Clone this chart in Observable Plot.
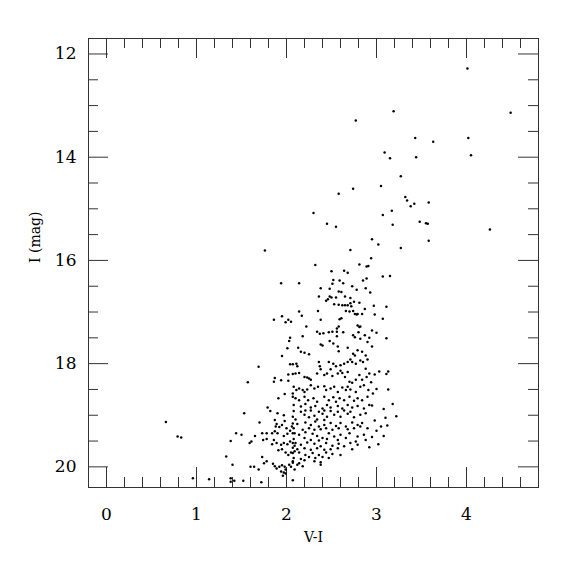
<!DOCTYPE html>
<html>
<head>
<meta charset="utf-8">
<script src="https://cdn.jsdelivr.net/npm/d3@7"></script>
<script src="https://cdn.jsdelivr.net/npm/@observablehq/plot@0.6"></script>
<style>
  html, body { margin: 0; padding: 0; background: #fff; }
</style>
</head>
<body>
<div id="chart"></div>
<script>
// ---- Data: [V-I, I (mag)] ----
const brightStars = [
  [4.01,12.28],[3.19,13.11],[4.49,13.14],[2.77,13.29],[3.43,13.63],[3.63,13.70],[4.02,13.63],
  [3.09,13.91],[3.15,14.02],[3.44,14.00],[4.05,13.96],[3.27,14.37],[2.74,14.61],[3.05,14.56],
  [2.58,14.71],[3.32,14.77],[3.34,14.84],[3.42,14.90],[3.38,14.95],[3.58,14.88],[3.17,15.04],
  [2.30,15.08],[3.07,15.12],[2.45,15.29],[2.55,15.35],[3.18,15.31],[3.48,15.25],[3.55,15.28],
  [3.57,15.29],[4.26,15.40],[2.95,15.59],[3.02,15.69],[3.58,15.62],[3.27,15.76],[2.71,15.80],
  [1.76,15.81]
];
const upperBranch = [
  [2.94,15.96],[2.32,16.09],[2.81,16.08],[2.91,16.11],[2.89,16.12],[2.50,16.21],[2.64,16.20],
  [2.68,16.24],[3.07,16.31],[3.15,16.30],[1.94,16.44],[2.14,16.44],[2.52,16.38],[2.51,16.45],
  [2.59,16.39],[2.63,16.44],[2.85,16.39],[2.89,16.35],[2.73,16.50],[2.38,16.54],[2.48,16.55],
  [2.58,16.60],[2.61,16.61],[2.78,16.57],[2.88,16.54],[2.93,16.62],[2.36,16.70],[2.46,16.75],
  [2.44,16.78],[2.50,16.72],[2.48,16.70],[2.55,16.72],[2.65,16.70],[2.71,16.73],[2.75,16.80],
  [2.81,16.82],[2.97,16.88],[3.11,16.90],[2.53,16.85],[2.58,16.86],[2.62,16.87],[2.65,16.87],
  [2.68,16.87],[2.71,16.83],[2.72,16.89],[2.14,16.99],[2.35,16.98],[2.17,17.07],[2.66,16.98],
  [2.70,16.99],[2.74,16.98],[2.76,17.04],[2.78,17.05],[2.79,17.04],[2.84,17.04],[2.87,16.94],
  [2.98,17.05],[1.86,17.15],[1.95,17.08],[1.99,17.20],[2.02,17.15],[2.05,17.19],[2.38,17.15],
  [2.59,17.14],[2.61,17.12],[2.58,17.28],[2.56,17.32],[2.79,17.26],[2.81,17.29],[2.82,17.28],
  [3.07,17.13],[2.22,17.28]
];
const branchEdges = [
  [2.95,17.36],[3.00,17.40],[2.04,17.50],[2.03,17.56],[3.11,17.51],[2.01,17.70],[2.95,17.67],
  [1.95,17.85],[2.04,18.01],[1.69,18.06],[3.13,18.15],[3.11,18.20],[2.02,18.21],[2.98,18.21],
  [3.03,18.15],[1.87,18.28],[1.86,18.35],[1.94,18.32],[2.02,18.33],[1.57,18.36],[2.94,18.36],
  [3.00,18.49],[2.96,18.58],[1.98,18.59],[1.91,18.67],[3.18,18.78],[1.79,18.85],[1.82,18.92],
  [1.90,18.96],[1.53,18.96],[1.97,19.00],[2.95,18.81],[3.08,18.88]
];
const midBranch = [
  [2.18,17.47],[2.34,17.38],[2.37,17.42],[2.41,17.41],[2.47,17.39],[2.51,17.38],[2.56,17.38],
  [2.56,17.47],[2.63,17.39],[2.74,17.45],[2.76,17.49],[2.80,17.39],[2.82,17.52],[2.87,17.45],
  [2.90,17.58],[2.92,17.50],[2.48,17.56],[2.52,17.61],[2.38,17.63],[2.40,17.65],[2.13,17.69],
  [2.16,17.77],[2.20,17.79],[2.25,17.82],[2.57,17.67],[2.58,17.76],[2.68,17.69],[2.74,17.81],
  [2.76,17.84],[2.79,17.74],[2.84,17.77],[2.88,17.84],[2.90,17.92],[2.82,17.94],[2.07,18.01],
  [2.11,18.00],[2.12,18.05],[2.36,17.97],[2.37,18.05],[2.47,17.97],[2.52,18.00],[2.55,18.05],
  [2.60,18.03],[2.64,18.00],[2.68,17.97],[2.71,17.92],[2.73,17.97],[2.77,18.00],[2.85,17.97],
  [2.88,18.10],[2.07,18.20],[2.10,18.19],[2.14,18.18],[2.20,18.26],[2.23,18.27],[2.25,18.29],
  [2.27,18.31],[2.34,18.19],[2.42,18.22],[2.45,18.19],[2.51,18.24],[2.57,18.19],[2.62,18.18],
  [2.65,18.26],[2.70,18.35],[2.73,18.37],[2.77,18.31],[2.81,18.22],[2.84,18.31],[2.89,18.26],
  [2.92,18.19],[2.38,18.11],[2.49,18.11],[2.60,18.14],[2.68,18.16],[2.08,18.45],[2.11,18.51],
  [2.14,18.48],[2.18,18.51],[2.20,18.55],[2.23,18.50],[2.07,18.58],[2.27,18.42],[2.31,18.48],
  [2.35,18.45],[2.42,18.44],[2.44,18.51],[2.49,18.48],[2.53,18.45],[2.57,18.55],[2.62,18.46],
  [2.66,18.51],[2.68,18.45],[2.71,18.50],[2.77,18.55],[2.82,18.45],[2.86,18.42],[2.91,18.51],
  [2.07,18.64],[2.10,18.67],[2.14,18.71],[2.20,18.64],[2.24,18.71],[2.30,18.67],[2.34,18.74],
  [2.42,18.64],[2.47,18.71],[2.52,18.65],[2.55,18.74],[2.59,18.67],[2.64,18.71],[2.70,18.64],
  [2.75,18.72],[2.79,18.67],[2.84,18.71],[2.90,18.64],[2.08,18.80],[2.16,18.83],[2.21,18.78],
  [2.27,18.85],[2.32,18.82],[2.40,18.87],[2.45,18.80],[2.49,18.85],[2.57,18.82],[2.62,18.87],
  [2.68,18.80],[2.73,18.85],[2.79,18.82],[2.86,18.87],[2.92,18.80]
];
const lowerClump = [
  [2.08,18.92],[2.16,18.93],[2.21,18.91],[2.27,18.91],[2.36,18.93],[2.42,18.91],[2.49,18.92],
  [2.57,18.93],[2.64,18.91],[2.71,18.93],[2.82,18.99],[2.88,18.96],[2.07,19.03],[2.20,18.99],
  [2.25,19.04],[2.31,19.01],[2.40,18.97],[2.45,19.03],[2.53,18.99],[2.60,19.03],[2.68,18.97],
  [2.75,19.04],[2.10,19.08],[2.34,19.08],[2.42,19.09],[2.12,19.17],[2.21,19.14],[2.27,19.19],
  [2.32,19.12],[2.36,19.22],[2.42,19.19],[2.49,19.15],[2.55,19.21],[2.60,19.15],[2.66,19.22],
  [2.73,19.14],[2.79,19.19],[2.84,19.15],[2.08,19.25],[2.18,19.28],[2.25,19.25],[2.31,19.28],
  [2.38,19.27],[2.44,19.25],[2.51,19.28],[2.58,19.25],[2.68,19.27],[2.75,19.25],[2.82,19.22],
  [2.90,19.25],[2.07,19.35],[2.14,19.38],[2.21,19.33],[2.29,19.36],[2.34,19.40],[2.40,19.44],
  [2.47,19.35],[2.53,19.41],[2.60,19.38],[2.70,19.35],[2.79,19.41],[2.86,19.38],[2.08,19.46],
  [2.20,19.44],[2.27,19.48],[2.36,19.49],[2.45,19.46],[2.57,19.48],[2.66,19.44],[2.77,19.51],
  [2.88,19.48],[2.10,19.54],[2.16,19.57],[2.23,19.53],[2.31,19.55],[2.38,19.60],[2.44,19.54],
  [2.51,19.59],[2.58,19.55],[2.64,19.60],[2.71,19.54],[2.79,19.57],[2.12,19.66],[2.20,19.64],
  [2.27,19.67],[2.34,19.64],[2.42,19.67],[2.49,19.66],[2.57,19.64],[2.73,19.66],[2.07,19.73],
  [2.14,19.72],[2.21,19.77],[2.29,19.73],[2.36,19.77],[2.44,19.72],[2.51,19.75],[2.60,19.77],
  [2.08,19.83],[2.16,19.85],[2.25,19.81],[2.32,19.83],[2.40,19.81],[2.47,19.83],[2.07,19.89],
  [2.14,19.93],[2.20,19.87],[2.31,19.89],[2.38,19.91],[2.12,19.96],[2.18,19.99],[2.38,19.96]
];
const faintBlue = [
  [0.66,19.13],[0.79,19.41],[0.83,19.43],[1.70,19.14],[1.44,19.35],[1.50,19.38],[1.38,19.50],
  [1.33,19.80],[1.40,19.96],[1.60,20.00],[1.64,20.00],[1.69,20.05],[1.59,19.54],[1.61,19.51],
  [1.73,19.81],[1.78,19.89],[1.75,19.93],[1.65,19.40],[1.74,19.48],[1.78,19.46],[1.84,19.35],
  [1.86,19.48],[0.96,20.22],[1.14,20.24],[1.38,20.22],[1.38,20.29],[1.42,20.27],[1.52,20.27],
  [1.72,20.30],[2.07,20.26],[1.87,19.09],[1.89,19.17],[1.88,19.22],[1.92,19.23],[1.87,19.31],
  [1.90,19.35],[1.95,19.19],[1.98,19.11],[2.00,19.25],[2.04,19.30],[2.06,19.22],[2.07,19.16],
  [2.09,19.35],[2.01,19.36],[1.97,19.40],[1.73,19.35],[1.78,19.35],[1.84,19.56],[1.89,19.54],
  [1.94,19.57],[1.97,19.54],[2.01,19.56],[2.04,19.51],[2.07,19.54],[2.09,19.59],[2.07,19.63],
  [1.91,19.68],[1.95,19.66],[1.99,19.72],[2.02,19.77],[2.05,19.72],[2.09,19.70],[1.85,19.94],
  [1.87,19.99],[1.89,20.03],[1.92,20.00],[1.95,19.97],[1.98,20.00],[1.99,20.05],[2.03,19.96],
  [2.05,20.00],[2.07,19.92],[2.09,20.05],[1.94,20.09],[1.97,20.11],[1.96,20.17],[1.99,20.13]
];
const redEdge = [
  [3.13,18.50],[2.98,19.10],[3.05,19.22],[3.12,19.20],[2.95,19.42],[3.08,19.40],[3.02,19.56],
  [2.92,19.62],[3.00,19.30],[3.10,19.05],[3.22,19.02]
];

// ---- Axes ----
const xDomain = [-0.2, 4.8];
const yDomain = [20.4, 11.7];
const xMajorTicks = [0, 1, 2, 3, 4];
const xMinorTicks = [0.2,0.4,0.6,0.8,1.2,1.4,1.6,1.8,2.2,2.4,2.6,2.8,3.2,3.4,3.6,3.8,4.2,4.4,4.6];
const yMajorTicks = [12, 14, 16, 18, 20];
const yMinorTicks = [12.5,13,13.5,14.5,15,15.5,16.5,17,17.5,18.5,19,19.5];
const xLabel = "V-I";
const yLabel = "I (mag)";

const stars = [...brightStars, ...upperBranch, ...branchEdges, ...midBranch, ...lowerClump, ...faintBlue, ...redEdge];

const W = 575, H = 575;
const mL = 88, mR = 37, mT = 38, mB = 88;
const fw = W - mL - mR, fh = H - mT - mB;
const major = 20, minor = 10;
const ink = "#333";

const chart = Plot.plot({
  width: W,
  height: H,
  marginLeft: mL,
  marginRight: mR,
  marginTop: mT,
  marginBottom: mB,
  style: { fontFamily: "DejaVu Serif", background: "#fff", color: "#000" },
  x: { domain: xDomain },
  y: { domain: yDomain },
  marks: [
    Plot.frame({ stroke: ink }),
    Plot.tickX(xMajorTicks, { x: d => d, stroke: ink, insetTop: fh - major }),
    Plot.tickX(xMinorTicks, { x: d => d, stroke: ink, insetTop: fh - minor }),
    Plot.tickX(xMajorTicks, { x: d => d, stroke: ink, insetBottom: fh - major }),
    Plot.tickX(xMinorTicks, { x: d => d, stroke: ink, insetBottom: fh - minor }),
    Plot.tickY(yMajorTicks, { y: d => d, stroke: ink, insetRight: fw - major }),
    Plot.tickY(yMinorTicks, { y: d => d, stroke: ink, insetRight: fw - minor }),
    Plot.tickY(yMajorTicks, { y: d => d, stroke: ink, insetLeft: fw - major }),
    Plot.tickY(yMinorTicks, { y: d => d, stroke: ink, insetLeft: fw - minor }),
    Plot.axisX(xMajorTicks, { anchor: "bottom", tickSize: 0, tickPadding: 20, fontSize: 17, label: null, tickFormat: d3.format("d") }),
    Plot.axisY(yMajorTicks, { anchor: "left", tickSize: 0, tickPadding: 12, fontSize: 17, label: null, tickFormat: d3.format("d") }),
    Plot.text([xLabel], { frameAnchor: "bottom", dy: 54, fontSize: 14, fill: "#000" }),
    Plot.text([yLabel], { frameAnchor: "left", dx: -53, rotate: -90, fontSize: 14, fill: "#000" }),
    Plot.dot(stars, { x: d => d[0], y: d => d[1], r: 1.25, fill: "#000", stroke: null })
  ]
});
document.getElementById("chart").appendChild(chart);
</script>
</body>
</html>
